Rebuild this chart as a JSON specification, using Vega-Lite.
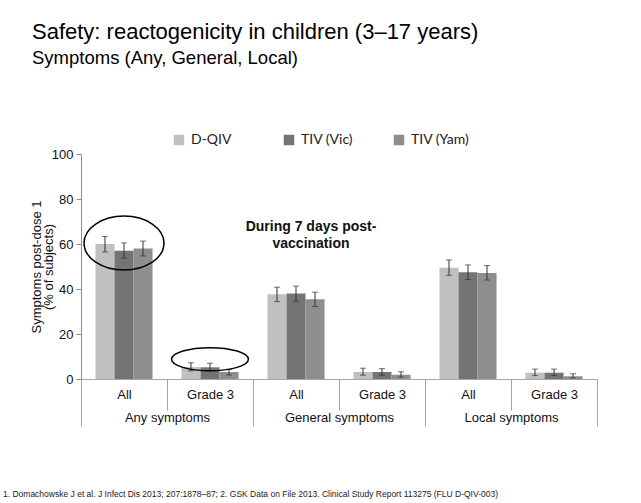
{
  "$schema": "https://vega.github.io/schema/vega-lite/v6.json",
  "width": 516,
  "height": 225,
  "autosize": {"type": "none"},
  "padding": {"left": 81, "top": 154, "right": 44, "bottom": 124},
  "background": "white",
  "config": {
    "view": {"stroke": null},
    "font": "Liberation Sans",
    "axis": {"grid": false}
  },
  "title": {
    "text": "Safety: reactogenicity in children (3–17 years)",
    "subtitle": "Symptoms (Any, General, Local)",
    "anchor": "start",
    "frame": "group",
    "dx": -49,
    "fontSize": 22,
    "fontWeight": "normal",
    "color": "#000000",
    "subtitleFontSize": 18.5,
    "subtitleColor": "#000000",
    "subtitlePadding": 5,
    "offset": 65
  },
  "layer": [
    {
      "data": {
        "values": [
          {"key": "Any symptoms|All", "vaccine": "D-QIV", "value": 60.0, "lo": 56.5, "hi": 63.3},
          {"key": "Any symptoms|All", "vaccine": "TIV (Vic)", "value": 57.0, "lo": 53.7, "hi": 60.5},
          {"key": "Any symptoms|All", "vaccine": "TIV (Yam)", "value": 58.0, "lo": 54.7, "hi": 61.3},
          {"key": "Any symptoms|Grade 3", "vaccine": "D-QIV", "value": 5.3, "lo": 3.6, "hi": 7.2},
          {"key": "Any symptoms|Grade 3", "vaccine": "TIV (Vic)", "value": 5.2, "lo": 3.6, "hi": 7.0},
          {"key": "Any symptoms|Grade 3", "vaccine": "TIV (Yam)", "value": 3.1, "lo": 1.8, "hi": 4.3},
          {"key": "General symptoms|All", "vaccine": "D-QIV", "value": 37.7, "lo": 34.4, "hi": 40.8},
          {"key": "General symptoms|All", "vaccine": "TIV (Vic)", "value": 38.0, "lo": 34.6, "hi": 41.3},
          {"key": "General symptoms|All", "vaccine": "TIV (Yam)", "value": 35.5, "lo": 32.2, "hi": 38.6},
          {"key": "General symptoms|Grade 3", "vaccine": "D-QIV", "value": 3.1, "lo": 1.7, "hi": 4.8},
          {"key": "General symptoms|Grade 3", "vaccine": "TIV (Vic)", "value": 3.1, "lo": 1.7, "hi": 4.6},
          {"key": "General symptoms|Grade 3", "vaccine": "TIV (Yam)", "value": 1.9, "lo": 0.8, "hi": 3.2},
          {"key": "Local symptoms|All", "vaccine": "D-QIV", "value": 49.5, "lo": 46.1, "hi": 52.9},
          {"key": "Local symptoms|All", "vaccine": "TIV (Vic)", "value": 47.5, "lo": 44.2, "hi": 50.7},
          {"key": "Local symptoms|All", "vaccine": "TIV (Yam)", "value": 47.1, "lo": 44.0, "hi": 50.4},
          {"key": "Local symptoms|Grade 3", "vaccine": "D-QIV", "value": 2.8, "lo": 1.5, "hi": 4.4},
          {"key": "Local symptoms|Grade 3", "vaccine": "TIV (Vic)", "value": 2.8, "lo": 1.5, "hi": 4.4},
          {"key": "Local symptoms|Grade 3", "vaccine": "TIV (Yam)", "value": 1.2, "lo": 0.5, "hi": 2.3}
        ]
      },
      "encoding": {
        "x": {
          "field": "key",
          "type": "nominal",
          "sort": null,
          "scale": {
            "domain": ["Any symptoms|All", "Any symptoms|Grade 3", "General symptoms|All", "General symptoms|Grade 3", "Local symptoms|All", "Local symptoms|Grade 3"],
            "paddingInner": 0,
            "paddingOuter": 0
          },
          "axis": {
            "orient": "bottom",
            "title": null,
            "labelExpr": "split(datum.label, '|')[1]",
            "labelAngle": 0,
            "tickBand": "extent",
            "tickSize": 31,
            "tickColor": "#a6a6a6",
            "domainColor": "#a6a6a6",
            "labelPadding": -22,
            "labelFontSize": 13,
            "labelColor": "#111111"
          }
        },
        "xOffset": {
          "field": "vaccine",
          "type": "nominal",
          "scale": {"domain": ["D-QIV", "TIV (Vic)", "TIV (Yam)"], "paddingInner": 0, "paddingOuter": 0.76}
        }
      },
      "layer": [
        {
          "mark": {"type": "bar"},
          "encoding": {
            "y": {
              "field": "value",
              "type": "quantitative",
              "scale": {"domain": [0, 100], "nice": false},
              "axis": {
                "values": [0, 20, 40, 60, 80, 100],
                "title": ["Symptoms post-dose 1", "(% of subjects)"],
                "titleFontSize": 13,
                "titleFontWeight": "normal",
                "titleColor": "#111111",
                "titleLineHeight": 12,
                "titlePadding": -4,
                "labelFontSize": 13,
                "labelColor": "#111111",
                "labelPadding": 3,
                "tickSize": 5,
                "tickColor": "#8c8c8c",
                "domainColor": "#8c8c8c"
              }
            },
            "color": {
              "field": "vaccine",
              "type": "nominal",
              "scale": {"domain": ["D-QIV", "TIV (Vic)", "TIV (Yam)"], "range": ["#c0c0c0", "#747474", "#8e8e8e"]},
              "legend": {
                "title": null,
                "orient": "none",
                "legendX": 91,
                "legendY": -21,
                "direction": "horizontal",
                "columns": 3,
                "gridAlign": "all",
                "columnPadding": 32,
                "symbolType": "square",
                "symbolSize": 110,
                "symbolStrokeWidth": 0,
                "labelFont": "Lato",
                "labelFontSize": 14,
                "labelColor": "#222222",
                "labelOffset": 5
              }
            }
          }
        },
        {
          "mark": {"type": "rule", "color": "#333333", "strokeWidth": 1},
          "encoding": {
            "y": {"field": "lo", "type": "quantitative", "scale": {"domain": [0, 100], "nice": false}},
            "y2": {"field": "hi"}
          }
        },
        {
          "mark": {"type": "tick", "color": "#333333", "thickness": 1, "size": 6},
          "encoding": {
            "y": {"field": "lo", "type": "quantitative", "scale": {"domain": [0, 100], "nice": false}}
          }
        },
        {
          "mark": {"type": "tick", "color": "#333333", "thickness": 1, "size": 6},
          "encoding": {
            "y": {"field": "hi", "type": "quantitative", "scale": {"domain": [0, 100], "nice": false}}
          }
        },
        {
          "data": {"values": [{"key": "Any symptoms|All", "center": 60.4}]},
          "mark": {
            "type": "point",
            "filled": false,
            "shape": "M -1 0 A 1 0.675 0 1 0 1 0 A 1 0.675 0 1 0 -1 0",
            "size": 6400,
            "stroke": "#000000",
            "strokeWidth": 1.5,
            "opacity": 1
          },
          "encoding": {
            "xOffset": null,
            "y": {"field": "center", "type": "quantitative", "scale": {"domain": [0, 100], "nice": false}}
          }
        },
        {
          "data": {"values": [{"key": "Any symptoms|Grade 3", "center": 8.8}]},
          "mark": {
            "type": "point",
            "filled": false,
            "shape": "M -1 0 A 1 0.3 0 1 0 1 0 A 1 0.3 0 1 0 -1 0",
            "size": 5900,
            "stroke": "#000000",
            "strokeWidth": 1.5,
            "opacity": 1
          },
          "encoding": {
            "xOffset": null,
            "y": {"field": "center", "type": "quantitative", "scale": {"domain": [0, 100], "nice": false}}
          }
        }
      ]
    },
    {
      "encoding": {
        "x": {
          "field": "group",
          "type": "nominal",
          "scale": {"domain": ["Any symptoms", "General symptoms", "Local symptoms"], "paddingInner": 0, "paddingOuter": 0},
          "axis": {
            "orient": "bottom",
            "title": null,
            "labelAngle": 0,
            "tickBand": "extent",
            "tickSize": 47,
            "tickColor": "#a6a6a6",
            "domain": false,
            "labelPadding": -15,
            "labelFontSize": 13,
            "labelColor": "#111111"
          }
        }
      },
      "layer": [
        {
          "data": {"values": [{"group": "General symptoms", "pos": 67.6, "note": ["During 7 days post-", "vaccination"]}]},
          "mark": {"type": "text", "fontSize": 14, "fontWeight": "bold", "align": "center", "baseline": "middle", "lineHeight": 17.5, "dx": -28, "color": "#111111"},
          "encoding": {
            "y": {"field": "pos", "type": "quantitative", "scale": {"domain": [0, 100], "nice": false}},
            "text": {"field": "note"}
          }
        },
        {
          "data": {"values": [{"group": "Any symptoms", "pos": -52.6, "note": "1. Domachowske J et al. J Infect Dis 2013; 207:1878–87; 2. GSK Data on File 2013. Clinical Study Report 113275 (FLU D-QIV-003)"}]},
          "mark": {"type": "text", "fontSize": 8.5, "align": "left", "baseline": "alphabetic", "dx": -78, "color": "#222222"},
          "encoding": {
            "x": {"field": "group", "type": "nominal", "bandPosition": 0},
            "y": {"field": "pos", "type": "quantitative", "scale": {"domain": [0, 100], "nice": false}},
            "text": {"field": "note"}
          }
        }
      ]
    }
  ],
  "resolve": {"scale": {"x": "independent"}, "axis": {"x": "independent"}}
}
